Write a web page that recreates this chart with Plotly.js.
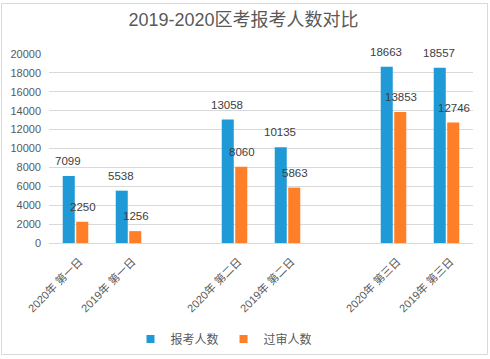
<!DOCTYPE html>
<html>
<head>
<meta charset="utf-8">
<script src="https://cdn.plot.ly/plotly-3.0.1.min.js"></script>
<style>html,body{margin:0;padding:0;background:#fff;}#chart{width:490px;height:359px;}</style>
</head>
<body>
<div id="chart"></div>
<script>
const categories = ["2020年 第一日","2019年 第一日","2020年 第二日","2019年 第二日","2020年 第三日","2019年 第三日"];
const applicants = [7099, 5538, 13058, 10135, 18663, 18557];
const approved = [2250, 1256, 8060, 5863, 13853, 12746];
const seriesNames = ["报考人数", "过审人数"];
const gapCategories = ["gap1", "gap2"];
const yTicks = [0, 2000, 4000, 6000, 8000, 10000, 12000, 14000, 16000, 18000, 20000];

const colors = ["#1f9ad7", "#fe7f27"];
const font = "'Liberation Sans', 'Noto Sans CJK SC', sans-serif";
const grey = "#595959";

// axis order: two categories per day, with an empty slot between days
const axisOrder = [];
categories.forEach((c, i) => {
  axisOrder.push(c);
  if (i % 2 === 1 && Math.floor(i / 2) < gapCategories.length) axisOrder.push(gapCategories[Math.floor(i / 2)]);
});

const traces = [
  {type: "bar", name: seriesNames[0], x: categories, y: applicants, marker: {color: colors[0]}, hoverinfo: "skip", showlegend: false},
  {type: "bar", name: seriesNames[1], x: categories, y: approved, marker: {color: colors[1]}, hoverinfo: "skip", showlegend: false},
  {type: "scatter", mode: "markers", x: gapCategories, y: gapCategories.map(() => null), showlegend: false, hoverinfo: "skip"},
  // legend entries with small square keys
  {type: "scatter", mode: "markers", name: seriesNames[0], x: [gapCategories[0]], y: [null],
   marker: {symbol: "square", size: 8, color: colors[0]}, hoverinfo: "skip"},
  {type: "scatter", mode: "markers", name: seriesNames[1], x: [gapCategories[0]], y: [null],
   marker: {symbol: "square", size: 8, color: colors[1]}, hoverinfo: "skip"}
];

const annotations = [];
[applicants, approved].forEach((arr, s) => {
  arr.forEach((v, i) => {
    annotations.push({
      xref: "x", yref: "y", x: categories[i], y: v, text: String(v),
      showarrow: false, xshift: s === 0 ? -8 : 7, yshift: 15, yanchor: "middle",
      font: {family: font, size: 11.5, color: "#404040"}
    });
  });
});

const L = 49, R = 473, T = 54, B = 243, W = 490, H = 359;
const px2x = p => (p - L) / (R - L);
const py2y = p => (B - p) / (B - T);

const layout = {
  width: W, height: H,
  margin: {l: L, r: W - R, t: T, b: H - B, pad: 0, autoexpand: false},
  paper_bgcolor: "#fff", plot_bgcolor: "#fff",
  font: {family: font, color: grey},
  title: {text: "2019-2020区考报考人数对比", font: {family: font, size: 18, color: grey},
          x: 0.497, xref: "container", y: 1 - 20 / H, yref: "container", yanchor: "middle", xanchor: "center"},
  barmode: "group", bargap: 0.49, bargroupgap: 0.11,
  xaxis: {type: "category", categoryorder: "array", categoryarray: axisOrder,
          tickmode: "array", tickvals: categories, ticktext: categories,
          tickangle: -45, tickfont: {family: font, size: 11, color: grey},
          ticklabelstandoff: 9, ticklabelshift: 4, automargin: false,
          showgrid: false, showline: false, ticks: "", zeroline: false, fixedrange: true},
  yaxis: {range: [0, 20000], tickvals: yTicks, ticktext: yTicks.map(String),
          tickfont: {family: font, size: 11, color: grey}, gridcolor: "#d9d9d9", gridwidth: 1,
          zeroline: true, zerolinecolor: "#d9d9d9", zerolinewidth: 1, showline: false, ticks: "",
          ticklabelstandoff: 7, automargin: false, fixedrange: true},
  showlegend: true,
  legend: {orientation: "h", x: px2x(224), xanchor: "center", y: py2y(339), yanchor: "middle",
           font: {family: font, size: 12, color: grey}, itemwidth: 30, traceorder: "normal"},
  annotations: annotations,
  shapes: [{type: "rect", xref: "paper", yref: "paper",
            x0: px2x(1.5), x1: px2x(487.5), y0: py2y(354.5), y1: py2y(3.5),
            line: {color: "#d9d9d9", width: 1}, layer: "below"}]
};

Plotly.newPlot("chart", traces, layout, {displayModeBar: false, staticPlot: true});
</script>
</body>
</html>
